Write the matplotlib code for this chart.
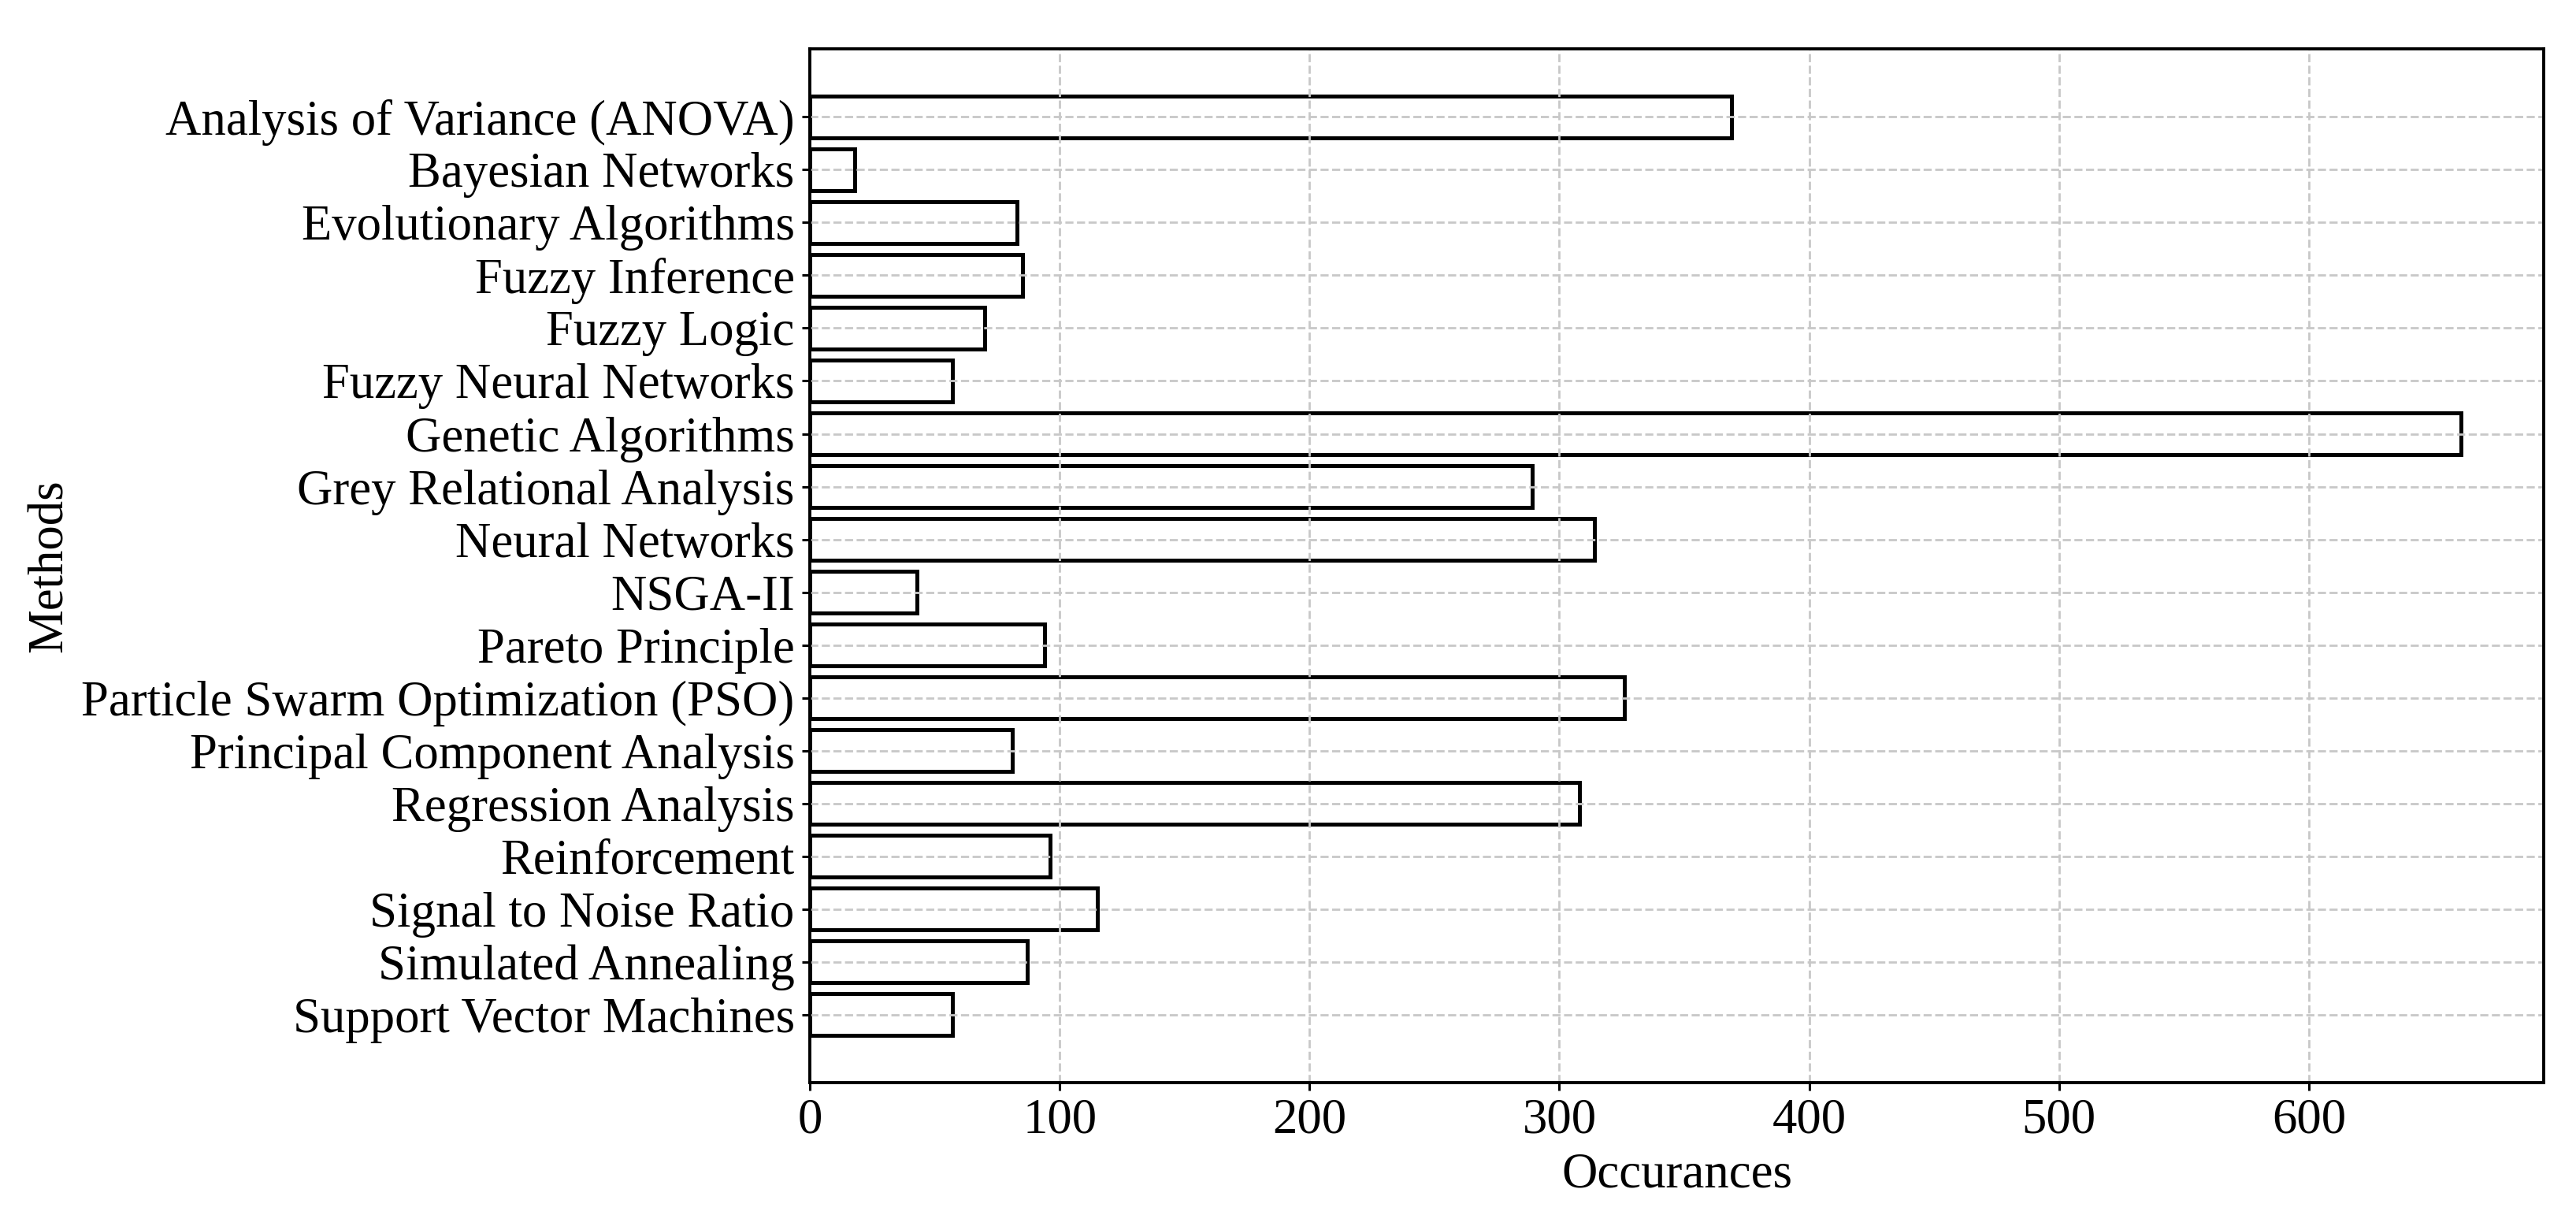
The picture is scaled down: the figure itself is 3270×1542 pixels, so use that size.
import matplotlib.pyplot as plt

# Method names (top to bottom) and how often each one shows up
methods = [
    "Analysis of Variance (ANOVA)",
    "Bayesian Networks",
    "Evolutionary Algorithms",
    "Fuzzy Inference",
    "Fuzzy Logic",
    "Fuzzy Neural Networks",
    "Genetic Algorithms",
    "Grey Relational Analysis",
    "Neural Networks",
    "NSGA-II",
    "Pareto Principle",
    "Particle Swarm Optimization (PSO)",
    "Principal Component Analysis",
    "Regression Analysis",
    "Reinforcement",
    "Signal to Noise Ratio",
    "Simulated Annealing",
    "Support Vector Machines",
]
occurrences = [369, 18, 83, 85, 70, 57, 661, 289, 314, 43, 94, 326, 81, 308, 96, 115, 87, 57]

plt.rcParams['font.family'] = ['Liberation Serif', 'DejaVu Serif']
plt.rcParams['font.size'] = 22.6

fig, ax = plt.subplots(figsize=(16.35, 7.71), dpi=200)
fig.subplots_adjust(left=0.3144, right=0.9875, top=0.9598, bottom=0.1089)

ax.barh(methods, occurrences, color='white', edgecolor='black', linewidth=1.8)
ax.invert_yaxis()

ax.set_xlabel("Occurances")
ax.set_ylabel("Methods")

# dashed grey grid, drawn over the bars like the default
ax.grid(True, linestyle='--', color='#c8c8c8', linewidth=1)

for spine in ax.spines.values():
    spine.set_linewidth(1.4)
ax.tick_params(width=1.1)

fig.savefig("out.png", dpi=200)
